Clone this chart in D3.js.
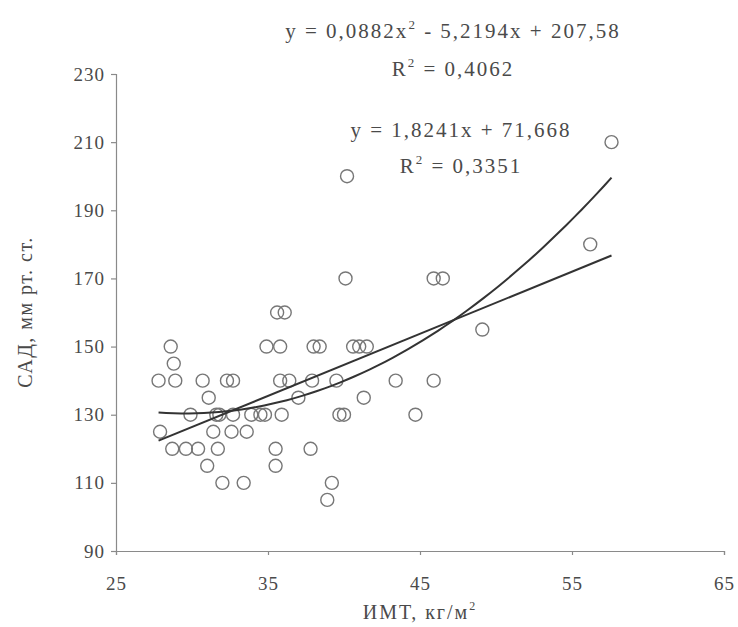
<!DOCTYPE html>
<html>
<head>
<meta charset="utf-8">
<script src="https://cdn.jsdelivr.net/npm/d3@7"></script>
<style>
  body { margin: 0; background: #fff; }
  text { font-family: "Liberation Serif", "DejaVu Serif", serif; fill: #4a4a4a; }
</style>
</head>
<body>
<div id="chart"></div>
<script>
// ИМТ (x) and САД (y) for each patient
const imt = [
    28.6, 34.9, 35.8, 38.0, 38.4, 40.6, 41.0, 41.5,
    35.6, 36.1,
    28.8,
    27.8, 28.9, 30.7, 32.3, 32.7, 35.8, 36.4, 37.9, 39.5, 43.4, 45.9,
    31.1, 37.0, 41.3,
    29.9, 31.6, 31.8, 32.7, 33.9, 34.5, 34.8, 35.9, 39.7, 40.0, 44.7,
    27.9, 31.4, 32.6, 33.6,
    28.7, 29.6, 30.4, 31.7, 35.5, 37.8,
    31.0, 35.5,
    32.0, 33.4, 39.2,
    38.9,
    40.1, 45.9, 46.5,
    40.2,
    49.1,
    56.2,
    57.6
];
const sad = [
    150, 150, 150, 150, 150, 150, 150, 150,
    160, 160,
    145,
    140, 140, 140, 140, 140, 140, 140, 140, 140, 140, 140,
    135, 135, 135,
    130, 130, 130, 130, 130, 130, 130, 130, 130, 130, 130,
    125, 125, 125, 125,
    120, 120, 120, 120, 120, 120,
    115, 115,
    110, 110, 110,
    105,
    170, 170, 170,
    200,
    155,
    180,
    210
];

// trend line coefficients as printed on the chart
const polyCoef = [0.0882, -5.2194, 207.58];
const linCoef = [1.8241, 71.668];

const xTicks = [25, 35, 45, 55, 65];
const yTicks = [90, 110, 130, 150, 170, 190, 210, 230];

const width = 738, height = 627;

let svg = d3.select("#chart").append("svg")
            .attr("width", width)
            .attr("height", height);

let x = d3.scaleLinear().domain([25, 65]).range([116, 724]);
let y = d3.scaleLinear().domain([90, 230]).range([551, 74]);

let yAxis = svg.append("g")
               .attr("transform", "translate(116,0)")
               .call(d3.axisLeft(y).tickValues(yTicks).tickSize(5).tickPadding(6));

let xAxis = svg.append("g")
               .attr("transform", "translate(0,551)")
               .call(d3.axisBottom(x).tickValues(xTicks).tickSize(4).tickPadding(22));

[xAxis, yAxis].forEach(function(a) {
    a.selectAll("path, line").attr("stroke", "#8a8a8a").attr("stroke-width", 1.2);
    a.selectAll("text")
     .attr("fill", "#4a4a4a")
     .style("font-family", "Liberation Serif, serif")
     .style("font-size", "19px")
     .style("letter-spacing", "1px");
});

// points
let data = imt.map((d, i) => ({x: d, y: sad[i]}));

svg.append("g")
   .selectAll("circle")
   .data(data)
   .enter()
   .append("circle")
   .attr("cx", d => x(d.x))
   .attr("cy", d => y(d.y))
   .attr("r", 6.5)
   .attr("fill", "none")
   .attr("stroke", "#777")
   .attr("stroke-width", 1.4);

// trend lines
let xMin = d3.min(imt), xMax = d3.max(imt);
let xs = d3.range(0, 61).map(i => xMin + (xMax - xMin) * i / 60);

let line = d3.line().x(d => x(d[0])).y(d => y(d[1]));

svg.append("path")
   .attr("d", line(xs.map(v => [v, polyCoef[0] * v * v + polyCoef[1] * v + polyCoef[2]])))
   .attr("fill", "none")
   .attr("stroke", "#333")
   .attr("stroke-width", 2);

svg.append("path")
   .attr("d", line([xMin, xMax].map(v => [v, linCoef[0] * v + linCoef[1]])))
   .attr("fill", "none")
   .attr("stroke", "#333")
   .attr("stroke-width", 2);

// equation labels; numbers in parts are superscripts
function label(px, py, parts) {
    let t = svg.append("text")
               .attr("x", px)
               .attr("y", py)
               .attr("text-anchor", "middle")
               .style("font-size", "21px")
               .style("letter-spacing", "2px");
    let up = false;
    parts.forEach(function(p) {
        if (typeof p === "number") {
            t.append("tspan").attr("dy", -9).style("font-size", "13px").text(String(p));
            up = true;
        } else {
            t.append("tspan").attr("dy", up ? 9 : 0).text(p);
            up = false;
        }
    });
}

label(453, 38, ["y = 0,0882x", 2, " - 5,2194x + 207,58"]);
label(453, 76, ["R", 2, " = 0,4062"]);
label(461, 137, ["y = 1,8241x + 71,668"]);
label(461, 173, ["R", 2, " = 0,3351"]);

// axis titles
svg.append("text")
   .attr("x", 420)
   .attr("y", 619)
   .attr("text-anchor", "middle")
   .style("font-size", "20px")
   .style("letter-spacing", "2px")
   .call(t => {
       t.append("tspan").text("ИМТ, кг/м");
       t.append("tspan").attr("dy", -9).style("font-size", "12px").text("2");
   });

svg.append("text")
   .attr("transform", "translate(32,312) rotate(-90)")
   .attr("text-anchor", "middle")
   .style("font-size", "20px")
   .style("letter-spacing", "1.5px")
   .text("САД,  мм рт. ст.");
</script>
</body>
</html>
